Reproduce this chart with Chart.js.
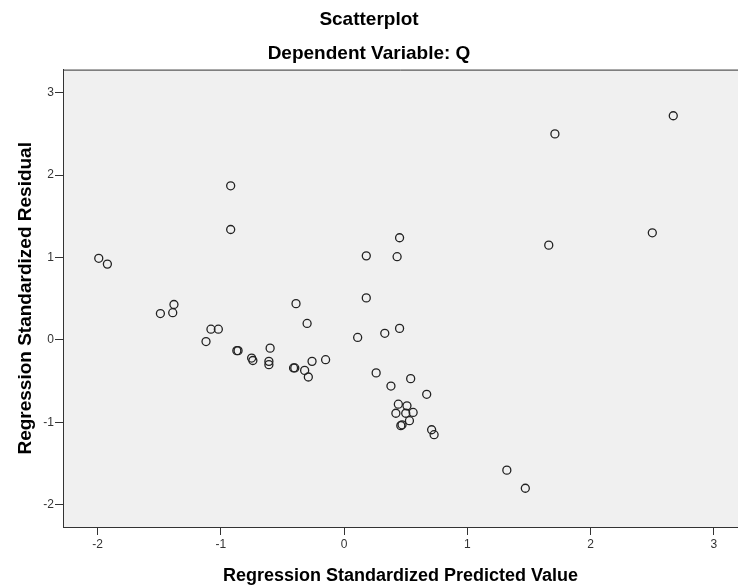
<!DOCTYPE html>
<html>
<head>
<meta charset="utf-8">
<script src="https://cdn.jsdelivr.net/npm/chart.js@4"></script>
<style>
  html, body { margin: 0; padding: 0; background: #ffffff; }
  #wrap { width: 738px; height: 587px; }
</style>
</head>
<body>
<div id="wrap"><canvas id="plot" width="738" height="587"></canvas></div>
<script>
// Regression Standardized Predicted Value (x) vs Regression Standardized Residual (y)
var predicted = [
  -1.99, -1.92, -1.49, -1.38, -1.39, -1.12, -1.08, -1.02, -0.92, -0.92,
  -0.87, -0.86, -0.75, -0.74, -0.60, -0.61, -0.61, -0.39, -0.30, -0.41,
  -0.40, -0.32, -0.29, -0.26, -0.15, 0.11, 0.18, 0.18, 0.26, 0.33,
  0.38, 0.43, 0.45, 0.45, 0.54, 0.67, 0.44, 0.51, 0.42, 0.50,
  0.56, 0.53, 0.46, 0.47, 0.71, 0.73, 1.32, 1.47, 1.66, 1.71,
  2.50, 2.67
];
var residual = [
  0.99, 0.92, 0.32, 0.43, 0.33, -0.02, 0.13, 0.13, 1.87, 1.34,
  -0.13, -0.13, -0.22, -0.25, -0.10, -0.26, -0.30, 0.44, 0.20, -0.34,
  -0.34, -0.37, -0.45, -0.26, -0.24, 0.03, 1.02, 0.51, -0.40, 0.08,
  -0.56, 1.01, 1.24, 0.14, -0.47, -0.66, -0.78, -0.80, -0.89, -0.89,
  -0.88, -0.98, -1.04, -1.03, -1.09, -1.15, -1.58, -1.80, 1.15, 2.50,
  1.30, 2.72
];
var xTicks = [-2, -1, 0, 1, 2, 3];
var yTicks = [-2, -1, 0, 1, 2, 3];

var punkte = predicted.map(function (v, i) {
  return { x: v, y: residual[i] };
});

// Hintergrund der Plotfläche und obere Linie
var plotFlaeche = {
  id: 'plotFlaeche',
  beforeDraw: function (chart) {
    var a = chart.chartArea, c = chart.ctx;
    c.save();
    c.fillStyle = '#f0f0f0';
    c.fillRect(a.left, a.top, a.right - a.left, a.bottom - a.top);
    c.strokeStyle = '#333333';
    c.lineWidth = 1;
    c.beginPath();
    c.moveTo(a.left, a.top + 0.5);
    c.lineTo(a.right, a.top + 0.5);
    c.stroke();
    c.restore();
  }
};

var schrift = 'Liberation Sans, Arial, sans-serif';

var ctx = document.getElementById('plot').getContext('2d');
var chart = new Chart(ctx, {
  type: 'scatter',
  data: {
    datasets: [{
      data: punkte,
      pointStyle: 'circle',
      pointRadius: 4,
      pointHoverRadius: 4,
      pointBorderWidth: 1.3,
      pointBorderColor: '#222222',
      pointBackgroundColor: 'rgba(0,0,0,0)'
    }]
  },
  options: {
    responsive: false,
    animation: false,
    layout: { padding: 0, autoPadding: false },
    plugins: {
      legend: { display: false },
      tooltip: { enabled: false },
      title: {
        display: true,
        text: 'Scatterplot',
        color: '#000000',
        font: { family: schrift, size: 19, weight: 'bold' },
        padding: { top: 8, bottom: 12 }
      },
      subtitle: {
        display: true,
        text: 'Dependent Variable: Q',
        color: '#000000',
        font: { family: schrift, size: 19, weight: 'bold' },
        padding: { top: 0, bottom: 4 }
      }
    },
    scales: {
      x: {
        type: 'linear',
        min: -2.28,
        max: 3.195,
        afterBuildTicks: function (axis) {
          axis.ticks = xTicks.map(function (v) { return { value: v }; });
        },
        afterFit: function (axis) {
          axis.height = 60;
          axis.paddingLeft = 0;
          axis.paddingRight = 0;
        },
        grid: { display: true, drawOnChartArea: false, drawTicks: true, tickLength: 8, color: '#333333' },
        border: { display: true, color: '#333333', width: 1 },
        ticks: {
          color: '#333333',
          padding: 2,
          maxRotation: 0,
          font: { family: schrift, size: 12 }
        },
        title: {
          display: true,
          text: 'Regression Standardized Predicted Value',
          color: '#000000',
          font: { family: schrift, size: 18, weight: 'bold' },
          padding: { top: 0, bottom: 0 }
        }
      },
      y: {
        type: 'linear',
        min: -2.27,
        max: 3.28,
        afterBuildTicks: function (axis) {
          axis.ticks = yTicks.map(function (v) { return { value: v }; });
        },
        afterFit: function (axis) {
          axis.width = 63;
          axis.paddingTop = 0;
          axis.paddingBottom = 0;
        },
        grid: { display: true, drawOnChartArea: false, drawTicks: true, tickLength: 8, color: '#333333' },
        border: { display: true, color: '#333333', width: 1 },
        ticks: {
          color: '#333333',
          padding: 1,
          font: { family: schrift, size: 12 }
        },
        title: {
          display: true,
          text: 'Regression Standardized Residual',
          color: '#000000',
          font: { family: schrift, size: 19, weight: 'bold' },
          padding: { top: 14, bottom: 0 }
        }
      }
    }
  },
  plugins: [plotFlaeche]
});
</script>
</body>
</html>
